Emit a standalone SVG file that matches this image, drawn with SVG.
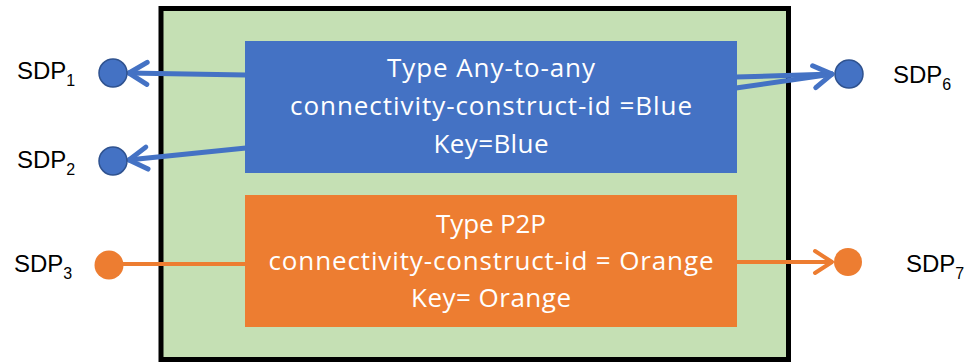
<svg xmlns="http://www.w3.org/2000/svg" width="969" height="363" viewBox="0 0 969 363">
<defs>
<style>
.lbl{font-family:"Liberation Sans",Arial,sans-serif;font-size:24px;fill:#000}
.sub{font-size:16px}
.bt{font-family:"Open Sans","Liberation Sans",sans-serif;font-size:26px;fill:#fff;text-anchor:middle}
.bl{stroke:#4472C4;stroke-width:5;fill:none}
.ol{stroke:#ED7D31;stroke-width:4;fill:none}
.bc{fill:#4472C4;stroke:#2F528F;stroke-width:1.5}
.oc{fill:#ED7D31}
</style>
<marker id="ab" markerUnits="userSpaceOnUse" markerWidth="30" markerHeight="30" viewBox="-25 -15 30 30" refX="0" refY="0" orient="auto">
<path d="M-19,-11 L-1,0 L-19,11" fill="none" stroke="#4472C4" stroke-width="5" stroke-linecap="round" stroke-linejoin="round"/>
</marker>
<marker id="ao" markerUnits="userSpaceOnUse" markerWidth="30" markerHeight="30" viewBox="-25 -15 30 30" refX="0" refY="0" orient="auto">
<path d="M-18,-11 L-1,0 L-18,11" fill="none" stroke="#ED7D31" stroke-width="4" stroke-linecap="round" stroke-linejoin="round"/>
</marker>
</defs>
<rect width="969" height="363" fill="#fff"/>
<g id="container">
<rect x="161" y="8.5" width="627.5" height="351" fill="#C5E0B4" stroke="#000" stroke-width="5"/>
</g>
<g id="connectors">
<line class="bl" x1="246" y1="75" x2="128" y2="73" marker-end="url(#ab)"/>
<line class="bl" x1="246" y1="148" x2="128" y2="160" marker-end="url(#ab)"/>
<line class="bl" x1="736" y1="77" x2="833" y2="74"/>
<line class="bl" x1="736" y1="88" x2="833" y2="74" marker-end="url(#ab)"/>
<line class="ol" x1="120" y1="264" x2="246" y2="264"/>
<line class="ol" x1="736" y1="262" x2="833" y2="262" marker-end="url(#ao)"/>
</g>
<g id="blue">
<rect x="245" y="41" width="492" height="132" fill="#4472C4"/>
<text class="bt" x="491" y="77" textLength="208" lengthAdjust="spacing">Type Any-to-any</text>
<text class="bt" x="491" y="115" textLength="402" lengthAdjust="spacing">connectivity-construct-id =Blue</text>
<text class="bt" x="491" y="153" textLength="115" lengthAdjust="spacing">Key=Blue</text>
</g>
<g id="orange">
<rect x="245" y="195" width="492" height="132" fill="#ED7D31"/>
<text class="bt" x="491" y="233" textLength="110" lengthAdjust="spacing">Type P2P</text>
<text class="bt" x="491" y="270" textLength="445" lengthAdjust="spacing">connectivity-construct-id = Orange</text>
<text class="bt" x="491" y="307" textLength="160" lengthAdjust="spacing">Key= Orange</text>
</g>
<g id="sdp1"><circle class="bc" cx="113" cy="73" r="14"/><text class="lbl" x="17" y="79">SDP<tspan class="sub" dy="7">1</tspan></text></g>
<g id="sdp2"><circle class="bc" cx="113" cy="161" r="14"/><text class="lbl" x="17" y="168">SDP<tspan class="sub" dy="7">2</tspan></text></g>
<g id="sdp3"><circle class="oc" cx="109" cy="265" r="14.5"/><text class="lbl" x="14" y="272">SDP<tspan class="sub" dy="7">3</tspan></text></g>
<g id="sdp6"><circle class="bc" cx="849" cy="74" r="14"/><text class="lbl" x="893" y="83">SDP<tspan class="sub" dy="7">6</tspan></text></g>
<g id="sdp7"><circle class="oc" cx="848" cy="262" r="14"/><text class="lbl" x="906" y="272">SDP<tspan class="sub" dy="7">7</tspan></text></g>
</svg>
